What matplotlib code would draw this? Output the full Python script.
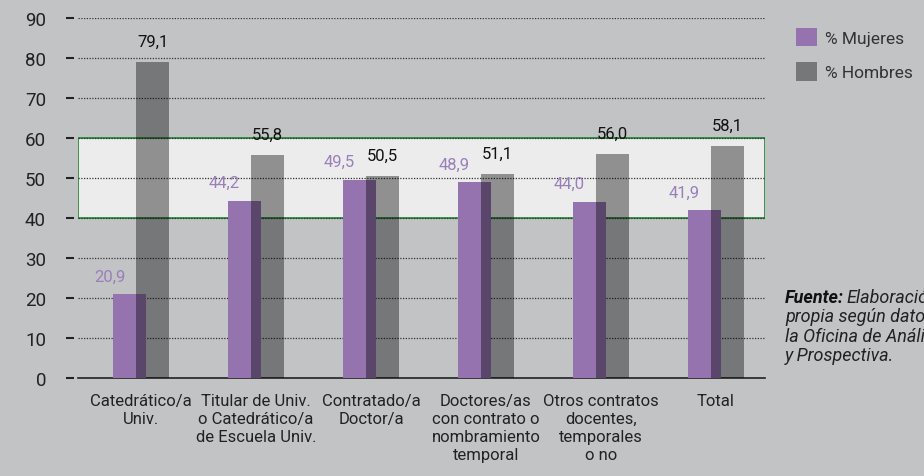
import numpy as np
import matplotlib.pyplot as plt
from matplotlib.patches import Rectangle, Patch

categorias = ['Catedrático/a\nUniv.',
              'Titular de Univ.\no Catedrático/a\nde Escuela Univ.',
              'Contratado/a\nDoctor/a',
              'Doctores/as\ncon contrato o\nnombramiento\ntemporal',
              'Otros contratos\ndocentes,\ntemporales\no no',
              'Total']
mujeres = [20.9, 44.2, 49.5, 48.9, 44.0, 41.9]
hombres = [79.1, 55.8, 50.5, 51.1, 56.0, 58.1]
yticks = [0, 10, 20, 30, 40, 50, 60, 70, 80, 90]

bg = '#c2c3c5'
purple = '#9473ae'
gray = (0, 0, 0, 0.39)

plt.rcParams['font.family'] = ['Roboto', 'DejaVu Sans']

fig = plt.figure(figsize=(9.24, 4.77), dpi=100, facecolor=bg)
ax = fig.add_axes([78 / 924, 1 - 379 / 477, (765 - 78) / 924, 360 / 477])
ax.set_facecolor(bg)

x = np.arange(len(categorias))
w = 0.288
off = 0.1

# banda destacada 40-60
ax.add_patch(Rectangle((-0.55, 40), 5.98, 20, facecolor='#ececec',
                       edgecolor='#17872f', linewidth=1.2, zorder=1))

for y in yticks[1:]:
    ax.axhline(y, color='#333333', linestyle=(0, (1, 1.2)), linewidth=0.9, zorder=2)

ax.bar(x - off, mujeres, w, color=purple, zorder=3)
ax.bar(x + off, hombres, w, color=gray, zorder=4)

for i in range(len(x)):
    ax.text(x[i] - 0.275, mujeres[i] + 4.6, f'{mujeres[i]:.1f}'.replace('.', ','),
            ha='center', va='center', fontsize=12, color='#9a7fba', zorder=5)
    ax.text(x[i] + off, hombres[i] + 5.1, f'{hombres[i]:.1f}'.replace('.', ','),
            ha='center', va='center', fontsize=12, color='#111111', zorder=5)

ax.set_xlim(-0.55, 5.43)
ax.set_ylim(0, 90)
ax.set_yticks(yticks)
ax.set_xticks(x)
ax.set_xticklabels(categorias, fontsize=12, color='#222222', linespacing=1.25)
ax.tick_params(axis='x', length=0, pad=11)
ax.tick_params(axis='y', length=6, width=1.5, color='#222222', pad=14,
               labelsize=13.5, labelcolor='#222222')

for s in ['top', 'right']:
    ax.spines[s].set_visible(False)
ax.spines['left'].set_position(('outward', 3))
ax.spines['left'].set_visible(False)
ax.spines['bottom'].set_color('#222222')
ax.spines['bottom'].set_linewidth(1.2)

handles = [Patch(facecolor=purple, label='% Mujeres'),
           Patch(facecolor=gray, label='% Hombres')]
fig.legend(handles=handles, loc='upper left', bbox_to_anchor=(780 / 924, 1 - 13 / 477),
           frameon=False, fontsize=12.5, handlelength=1.25, handleheight=1.25,
           handletextpad=0.45, labelspacing=0.95, labelcolor='#333333')

fy = 1 - 298 / 477
fig.text(785 / 924, fy, 'Fuente:', fontsize=13, style='italic', weight='bold',
         color='#111111', va='center')
fig.text(846 / 924, fy, 'Elaboración', fontsize=13, style='italic',
         color='#222222', va='center')
lines = ['propia según datos de', 'la Oficina de Análisis', 'y Prospectiva.']
for k, t in enumerate(lines):
    fig.text(785 / 924, fy - (k + 1) * 19.5 / 477, t, fontsize=13, style='italic',
             color='#222222', va='center')

fig.savefig('out.png', dpi=100, facecolor=bg)
